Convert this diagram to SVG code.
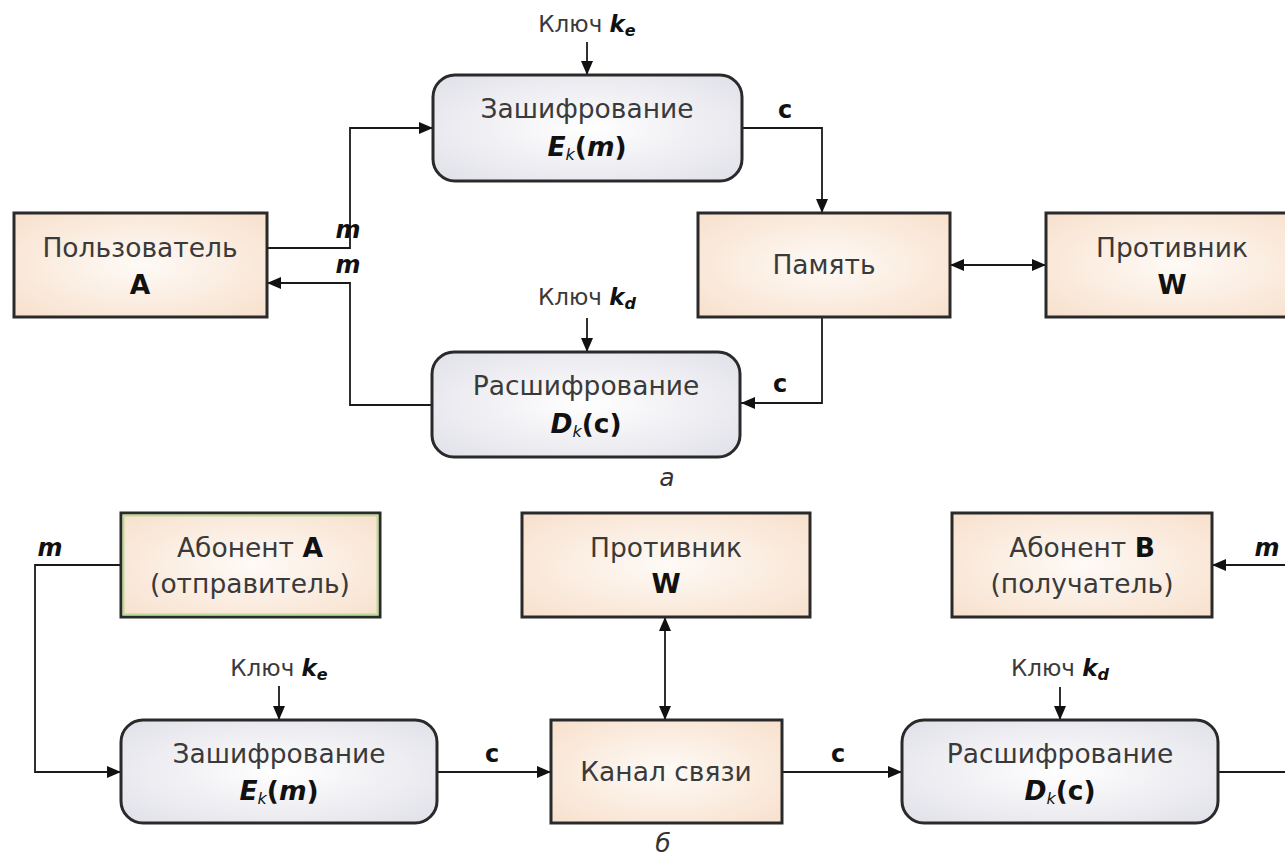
<svg xmlns="http://www.w3.org/2000/svg" width="1285" height="859" viewBox="0 0 1285 859">
<defs>
<radialGradient id="peach" cx="50%" cy="50%" r="65%">
<stop offset="0" stop-color="#fefaf6"/>
<stop offset="1" stop-color="#f8e2cf"/>
</radialGradient>
<radialGradient id="grey" cx="50%" cy="50%" r="65%">
<stop offset="0" stop-color="#ffffff"/>
<stop offset="1" stop-color="#e2e2ea"/>
</radialGradient>
<marker id="ah" viewBox="0 0 14 12" refX="14" refY="6" markerWidth="14" markerHeight="12" markerUnits="userSpaceOnUse" orient="auto-start-reverse">
<path d="M0,0 L14,6 L0,12 Z" fill="#111"/>
</marker>
<style>
.sq{fill:url(#peach);stroke:#2a2a2a;stroke-width:3}
.rd{fill:url(#grey);stroke:#2a2a2a;stroke-width:3}
.t{font-family:"DejaVu Sans",sans-serif;font-size:26.5px;fill:#3a3a3a;text-anchor:middle}
.k{font-family:"DejaVu Sans",sans-serif;font-size:23px;fill:#3a3a3a;text-anchor:middle}
.b{font-weight:bold;fill:#111}
.bi{font-weight:bold;font-style:italic;fill:#111}
.sub{font-size:16px;font-style:italic;fill:#111}
.lab{font-family:"DejaVu Sans",sans-serif;font-size:24px;font-weight:bold;fill:#111;text-anchor:middle}
.cap{font-family:"DejaVu Sans",sans-serif;font-size:25px;font-style:italic;fill:#333;text-anchor:middle}
.c{fill:none;stroke:#1a1a1a;stroke-width:1.8}
</style>
</defs>
<rect width="1285" height="859" fill="#ffffff"/>

<g id="connectors">
<path class="c" d="M587,42 V75" marker-end="url(#ah)"/>
<path class="c" d="M742,128 H822 V213" marker-end="url(#ah)"/>
<path class="c" d="M267,248 H350 V128 H433" marker-end="url(#ah)"/>
<path class="c" d="M432,405 H350 V283 H267" marker-end="url(#ah)"/>
<path class="c" d="M587,318 V352" marker-end="url(#ah)"/>
<path class="c" d="M822,317 V403 H741" marker-end="url(#ah)"/>
<path class="c" d="M950,265 H1046" marker-start="url(#ah)" marker-end="url(#ah)"/>

<path class="c" d="M121,565 H35 V772 H121" marker-end="url(#ah)"/>
<path class="c" d="M279,686 V720" marker-end="url(#ah)"/>
<path class="c" d="M437,772 H551" marker-end="url(#ah)"/>
<path class="c" d="M665,617 V720" marker-start="url(#ah)" marker-end="url(#ah)"/>
<path class="c" d="M782,772 H902" marker-end="url(#ah)"/>
<path class="c" d="M1060,687 V720" marker-end="url(#ah)"/>
<path class="c" d="M1212,772 H1285"/>
<path class="c" d="M1285,565 H1212" marker-end="url(#ah)"/>
</g>

<g id="labels">
<text class="k" x="587" y="32">Ключ <tspan class="bi">k</tspan><tspan class="bi" font-size="16" dy="4">e</tspan></text>
<text class="lab" x="785" y="118">c</text>
<text class="lab" x="348" y="238" font-style="italic">m</text>
<text class="lab" x="348" y="273" font-style="italic">m</text>
<text class="k" x="587" y="305">Ключ <tspan class="bi">k</tspan><tspan class="bi" font-size="16" dy="4">d</tspan></text>
<text class="lab" x="780" y="392">c</text>
<text class="cap" x="667" y="486">а</text>

<text class="lab" x="50" y="556" font-style="italic">m</text>
<text class="k" x="279" y="676">Ключ <tspan class="bi">k</tspan><tspan class="bi" font-size="16" dy="4">e</tspan></text>
<text class="lab" x="492" y="762">c</text>
<text class="lab" x="838" y="762">c</text>
<text class="k" x="1060" y="676">Ключ <tspan class="bi">k</tspan><tspan class="bi" font-size="16" dy="4">d</tspan></text>
<text class="lab" x="1267" y="556" font-style="italic">m</text>
<text class="cap" x="663" y="852">б</text>
</g>

<g id="enc-top">
<rect class="rd" x="433" y="75" width="309" height="106" rx="22"/>
<text class="t" x="587" y="118">Зашифрование</text>
<text class="t" x="587" y="156"><tspan class="bi">E</tspan><tspan class="sub" dy="4">k</tspan><tspan class="b" dy="-4">(</tspan><tspan class="bi">m</tspan><tspan class="b">)</tspan></text>
</g>

<g id="user-a">
<rect class="sq" x="14" y="213" width="253" height="104"/>
<text class="t" x="140" y="257">Пользователь</text>
<text class="t" x="140" y="294"><tspan class="b">A</tspan></text>
</g>

<g id="memory">
<rect class="sq" x="698" y="213" width="252" height="104"/>
<text class="t" x="824" y="274">Память</text>
</g>

<g id="adv-top">
<rect class="sq" x="1046" y="213" width="260" height="104"/>
<text class="t" x="1172" y="257">Противник</text>
<text class="t" x="1172" y="294"><tspan class="b">W</tspan></text>
</g>

<g id="dec-top">
<rect class="rd" x="432" y="352" width="308" height="105" rx="22"/>
<text class="t" x="586" y="395">Расшифрование</text>
<text class="t" x="586" y="433"><tspan class="bi">D</tspan><tspan class="sub" dy="4">k</tspan><tspan class="b" dy="-4">(c)</tspan></text>
</g>

<g id="abonent-a">
<rect x="121" y="513" width="259" height="104" fill="url(#peach)" stroke="#2a2a2a" stroke-width="3"/>
<rect x="123.5" y="515.5" width="254" height="99" fill="none" stroke="#b9dc96" stroke-width="2"/>
<text class="t" x="250" y="557">Абонент <tspan class="b">A</tspan></text>
<text class="t" x="250" y="593">(отправитель)</text>
</g>

<g id="adv-bottom">
<rect class="sq" x="522" y="513" width="288" height="104"/>
<text class="t" x="666" y="557">Противник</text>
<text class="t" x="666" y="593"><tspan class="b">W</tspan></text>
</g>

<g id="abonent-b">
<rect class="sq" x="952" y="513" width="260" height="104"/>
<text class="t" x="1082" y="557">Абонент <tspan class="b">B</tspan></text>
<text class="t" x="1082" y="593">(получатель)</text>
</g>

<g id="enc-bottom">
<rect class="rd" x="121" y="720" width="316" height="103" rx="22"/>
<text class="t" x="279" y="763">Зашифрование</text>
<text class="t" x="279" y="800"><tspan class="bi">E</tspan><tspan class="sub" dy="4">k</tspan><tspan class="b" dy="-4">(</tspan><tspan class="bi">m</tspan><tspan class="b">)</tspan></text>
</g>

<g id="channel">
<rect class="sq" x="551" y="720" width="231" height="103"/>
<text class="t" x="666" y="781">Канал связи</text>
</g>

<g id="dec-bottom">
<rect class="rd" x="902" y="720" width="316" height="103" rx="22"/>
<text class="t" x="1060" y="763">Расшифрование</text>
<text class="t" x="1060" y="800"><tspan class="bi">D</tspan><tspan class="sub" dy="4">k</tspan><tspan class="b" dy="-4">(c)</tspan></text>
</g>
</svg>
